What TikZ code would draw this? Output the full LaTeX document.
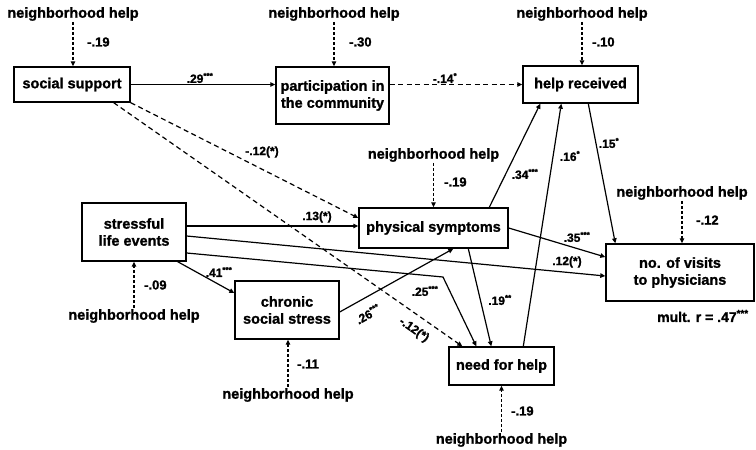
\documentclass[tikz,border=0pt]{standalone}
\usepackage{fontspec}
\setmainfont{Liberation Sans}[BoldFeatures={FakeBold=1.2}]
\usetikzlibrary{arrows.meta}
\newcommand\sig[1]{\textsuperscript{#1}}
\begin{document}
\begin{tikzpicture}[x=1pt,y=-1pt,
  box/.style={draw,line width=1.4pt,inner sep=0pt,align=center,font=\bfseries\fontsize{14.5}{17}\selectfont},
  nbh/.style={inner sep=1pt,font=\bfseries\fontsize{14.5}{17}\selectfont},
  coef/.style={inner sep=0pt,font=\bfseries\fontsize{12}{14}\selectfont},
  modlab/.style={inner sep=0pt,anchor=west,font=\bfseries\fontsize{13}{15}\selectfont},
  arr/.style={line width=1.2pt,-{Triangle[length=5pt,width=4.5pt]}},
  darr/.style={arr,dash pattern=on 5pt off 3.5pt},
  marr/.style={arr,dash pattern=on 3pt off 2pt}
]
\useasboundingbox (0,0) rectangle (756,450);
\fill[white] (0,0) rectangle (756,450);
% boxes
\node[box,minimum width=116pt,minimum height=35pt] (ss) at (72,84.5) {social support};
\node[box,minimum width=113pt,minimum height=57pt] (pc) at (332.5,95.5) {participation in\\the community};
\node[box,minimum width=115pt,minimum height=37pt] (hr) at (580.5,84.5) {help received};
\node[box,minimum width=104pt,minimum height=58pt] (le) at (134,232) {stressful\\life events};
\node[box,minimum width=149pt,minimum height=40pt] (ps) at (433.5,228) {physical symptoms};
\node[box,minimum width=104pt,minimum height=58pt] (cs) at (287,310) {chronic\\social stress};
\node[box,minimum width=105pt,minimum height=38pt] (nh) at (501.5,366) {need for help};
\node[box,minimum width=148pt,minimum height=57pt] (nv) at (680,272.5) {no. of visits\\to physicians};
% paths
\draw[arr] (ss.east) -- (ss.east -| pc.west);
\draw[darr] (pc.east |- hr.west) -- (hr.west);
\draw[darr] (ss.south east) -- ([yshift=10pt]ps.west);
\draw[darr] ([xshift=-17pt]ss.south east) -- ([xshift=14pt]nh.north west);
\draw[arr] ([yshift=6pt]le.east) -- ([yshift=6pt]le.east -| ps.west);
\draw[arr] ([yshift=-4pt]le.east) -- ([yshift=-3.5pt]nv.west);
\coordinate (bend) at (443,277);
\draw[arr] ([yshift=-21pt]le.east) -- (bend) -- ([xshift=28pt]nh.north west);
\draw[arr] ([xshift=-9pt]le.south east) -- ([yshift=17pt]cs.west);
\draw[arr] ([yshift=-2pt]cs.east) -- ([xshift=95pt]ps.south west);
\draw[arr] (ps.east) -- ([yshift=15.5pt]nv.west);
\draw[arr] ([xshift=110pt]ps.south west) -- ([xshift=43pt]nh.north west);
\draw[arr] ([xshift=131pt]ps.north west) -- ([xshift=18pt]hr.south west);
\draw[arr] ([xshift=75pt]nh.north west) -- ([xshift=39pt]hr.south west);
\draw[arr] ([xshift=66pt]hr.south west) -- ([xshift=10pt]nv.north west);
% path coefficients
\node[coef] (l1) at (200,78) {.29\sig{***}};
\node[coef] (l2) at (445,78) {-.14\sig{*}};
\node[coef] (l3) at (262,152) {-.12(*)};
\node[coef] (l4) at (317,217) {.13(*)};
\node[coef] (l5) at (567,262) {.12(*)};
\node[coef] (l6) at (425,291) {.25\sig{***}};
\node[coef] (l7) at (219,272) {.41\sig{***}};
\node[coef,rotate=29] (l8) at (368,314) {.26\sig{***}};
\node[coef,rotate=-35] (l9) at (414,330) {-.12(*)};
\node[coef] (l10) at (577,237) {.35\sig{***}};
\node[coef] (l11) at (500,300) {.19\sig{**}};
\node[coef] (l12) at (525,174) {.34\sig{***}};
\node[coef] (l13) at (570,156) {.16\sig{*}};
\node[coef] (l14) at (609,143) {.15\sig{*}};
% moderators
\node[nbh] (m1) at (73,14) {neighborhood help};
\draw[marr] (m1.south) -- (m1.south |- ss.north);
\node[modlab] (c1) at (87,42) {-.19};
\node[nbh] (m2) at (334,14) {neighborhood help};
\draw[marr] (m2.south) -- (m2.south |- pc.north);
\node[modlab] (c2) at (349,42) {-.30};
\node[nbh] (m3) at (582,14) {neighborhood help};
\draw[marr] (m3.south) -- (m3.south |- hr.north);
\node[modlab] (c3) at (592,42) {-.10};
\node[nbh] (m4) at (433.5,155) {neighborhood help};
\draw[marr] (m4.south) -- (m4.south |- ps.north);
\node[modlab] (c4) at (444,182) {-.19};
\node[nbh] (m5) at (682,193) {neighborhood help};
\draw[marr] (m5.south) -- (m5.south |- nv.north);
\node[modlab] (c5) at (696,220) {-.12};
\node[nbh] (m6) at (134,316) {neighborhood help};
\draw[marr] (m6.north) -- (m6.north |- le.south);
\node[modlab] (c6) at (144,285) {-.09};
\node[nbh] (m7) at (288,395) {neighborhood help};
\draw[marr] (m7.north) -- (m7.north |- cs.south);
\node[modlab] (c7) at (297,364) {-.11};
\node[nbh] (m8) at (501.5,440) {neighborhood help};
\draw[marr] (m8.north) -- (m8.north |- nh.south);
\node[modlab] (c8) at (511,411) {-.19};
\node[inner sep=0pt,anchor=west,font=\bfseries\fontsize{14}{16}\selectfont] (mr) at (657,316) {mult. r = .47\sig{***}};
\end{tikzpicture}
\end{document}
